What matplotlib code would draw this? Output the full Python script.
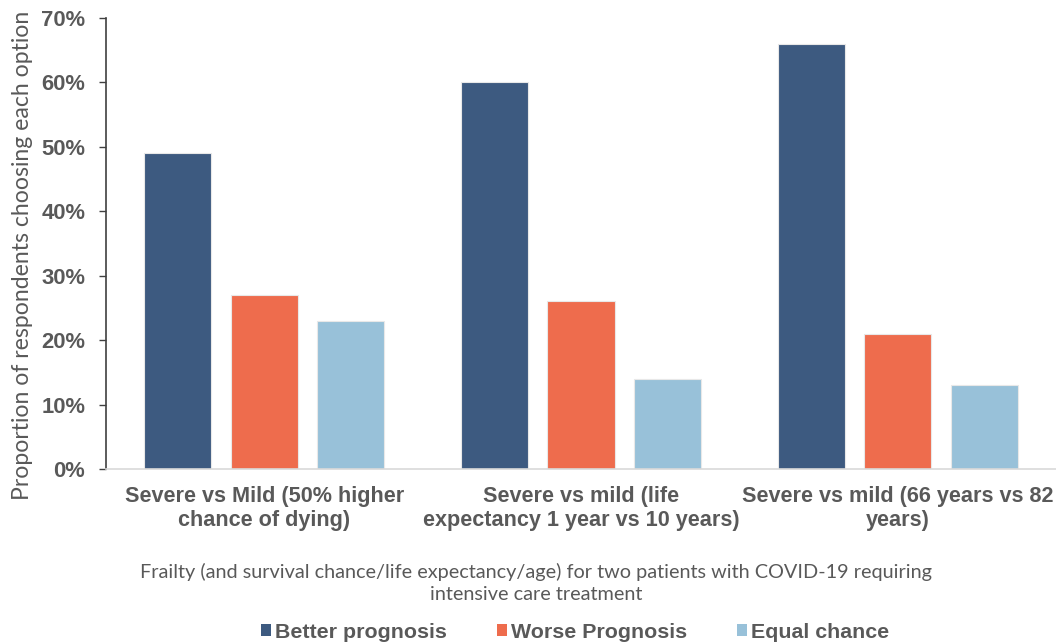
import numpy as np
import matplotlib
matplotlib.use("Agg")
import matplotlib.pyplot as plt
from matplotlib.ticker import PercentFormatter
from matplotlib.patches import Patch

# ---- data ----
categories = [
    "Severe vs Mild (50% higher\nchance of dying)",
    "Severe vs mild (life\nexpectancy 1 year vs 10 years)",
    "Severe vs mild (66 years vs 82\nyears)",
]
series_names = ["Better prognosis", "Worse Prognosis", "Equal chance"]
better = [0.49, 0.60, 0.66]
worse = [0.27, 0.26, 0.21]
equal = [0.23, 0.14, 0.13]
yticks = [0.0, 0.1, 0.2, 0.3, 0.4, 0.5, 0.6, 0.7]

colors = ["#3D5A80", "#EE6C4D", "#98C1D9"]
TXT = "#595959"
BOLD = "Liberation Sans"
THIN = "Lato"

fig = plt.figure(figsize=(10.56, 6.43), dpi=100)
ax = fig.add_axes([0.1004, 0.2706, 0.8996, 0.7014])

x = np.arange(len(categories))
width = 0.212
step = 0.273
for i, (vals, col, name) in enumerate(zip([better, worse, equal], colors, series_names)):
    ax.bar(x + (i - 1) * step, vals, width, color=col, edgecolor="#e8e8e8",
           linewidth=0.8, label=name, zorder=2)

ax.set_xlim(-0.5, 2.5)
ax.set_ylim(0, 0.7)
ax.set_yticks(yticks)
ax.yaxis.set_major_formatter(PercentFormatter(1.0, decimals=0))

for s in ["top", "right"]:
    ax.spines[s].set_visible(False)
ax.spines["left"].set_color("#404040")
ax.spines["left"].set_linewidth(1.2)
ax.spines["bottom"].set_color("#d9d9d9")
ax.spines["bottom"].set_linewidth(1.2)

ax.tick_params(axis="y", direction="out", length=5, width=1, color="#404040", pad=10)
ax.tick_params(axis="x", length=0, pad=12)
for lab in ax.get_yticklabels():
    lab.set_fontfamily(BOLD)
    lab.set_fontweight("bold")
    lab.set_fontsize(15.8)
    lab.set_color(TXT)

ax.set_xticks(x)
ax.set_xticklabels(categories, fontfamily=BOLD, fontweight="bold", fontsize=15.6,
                   color=TXT, linespacing=1.22)

fig.text(0.021, 1 - 255 / 643, "Proportion of respondents choosing each option",
         rotation=90, ha="center", va="center", fontfamily=THIN, fontsize=16.6, color=TXT)

fig.text(536 / 1056, 1 - 583 / 643,
         "Frailty (and survival chance/life expectancy/age) for two patients with COVID-19 requiring\nintensive care treatment",
         ha="center", va="center", fontfamily=THIN, fontsize=14.3, color=TXT, linespacing=1.42)

handles = [Patch(facecolor=c, edgecolor="none") for c in colors]
leg = fig.legend(handles, series_names, loc="center", bbox_to_anchor=(575 / 1056, 1 - 632 / 643),
                 ncol=3, frameon=False, handlelength=0.47, handleheight=0.47, handletextpad=0.19,
                 columnspacing=2.34, prop={"family": BOLD, "weight": "bold", "size": 15.4})
for t in leg.get_texts():
    t.set_color(TXT)

fig.savefig("out.png", dpi=100)
